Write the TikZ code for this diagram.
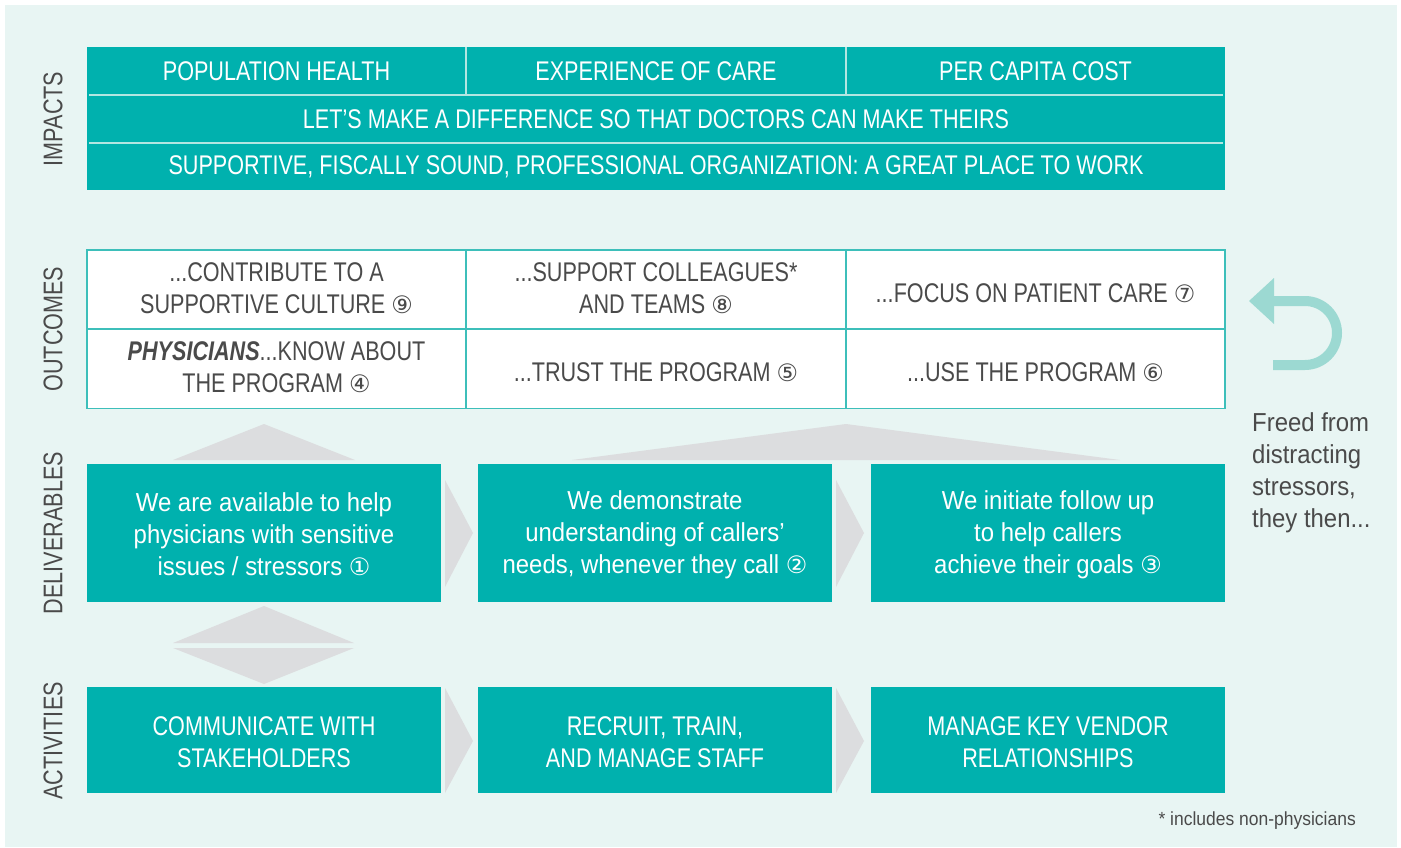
\documentclass[tikz,border=0pt]{standalone}
\usepackage{fontspec}
\setmainfont{Liberation Sans}[FakeStretch=0.80]
\newfontfamily\lcfont{Liberation Sans}[FakeStretch=0.92]
\newfontfamily\circfont{DejaVu Sans}
\definecolor{bgmint}{HTML}{E8F5F3}
\definecolor{tealA}{HTML}{00B1AE}
\definecolor{tealLine}{HTML}{3DBFBA}
\definecolor{sepLine}{HTML}{B3E6E2}
\definecolor{greyTri}{HTML}{DCDDDF}
\definecolor{inkGrey}{HTML}{4A4A4A}
\definecolor{arrowMint}{HTML}{9CD9D2}
\newcommand{\cnum}[1]{{\circfont\fontsize{24}{32}\selectfont #1}}
% struts that keep every text block centred the same way in its box
\newcommand{\capstrut}{\rule[-4.5pt]{0pt}{24pt}}
\newcommand{\onestrut}{\rule[0pt]{0pt}{26pt}}
\newcommand{\actstrut}{\rule[-2pt]{0pt}{27.5pt}}
\newcommand{\lcstrut}{\rule[-2.5pt]{0pt}{25pt}}
\tikzset{
  impactcell/.style={fill=tealA, text=white, inner sep=0pt, minimum height=48,
    font=\fontsize{27}{32}\selectfont},
  outcomecell/.style={fill=white, draw=tealLine, line width=1.6pt, text=inkGrey,
    inner sep=0pt, minimum width=379, minimum height=79, align=center,
    font=\fontsize{27}{32}\selectfont},
  delivbox/.style={fill=tealA, text=white, inner sep=0pt, minimum width=354,
    minimum height=138, align=center, font=\lcfont\fontsize{26}{32}\selectfont},
  actbox/.style={fill=tealA, text=white, inner sep=0pt, minimum width=354,
    minimum height=106, align=center, font=\fontsize{27}{32}\selectfont},
  sidelabel/.style={text=inkGrey, rotate=90, inner sep=0pt,
    font=\fontsize{27}{32}\selectfont},
  sepline/.style={draw=sepLine, line width=1.5pt},
  greyshape/.style={fill=greyTri, draw=none},
}
\begin{document}
\begin{tikzpicture}[x=1pt, y=-1pt]
\useasboundingbox (0,0) rectangle (1401,848);
\fill[white] (0,0) rectangle (1401,848);
\fill[bgmint] (5,5) rectangle (1397,847);

% side labels
\node[sidelabel] (labImpacts) at (53,119) {IMPACTS};
\node[sidelabel] (labOutcomes) at (53,329) {OUTCOMES};
\node[sidelabel] (labDeliv) at (53,533) {DELIVERABLES};
\node[sidelabel] (labAct) at (53,741) {ACTIVITIES};

% impacts
\node[impactcell, minimum width=379] (impPop) at (276.5,71) {POPULATION HEALTH};
\node[impactcell, minimum width=380] (impExp) at (656,71) {EXPERIENCE OF CARE};
\node[impactcell, minimum width=379] (impCost) at (1035.5,71) {PER CAPITA COST};
\node[impactcell, minimum width=1138] (impDiff) at (656,119) {LET’S MAKE A DIFFERENCE SO THAT DOCTORS CAN MAKE THEIRS};
\node[impactcell, minimum width=1138, minimum height=47] (impOrg) at (656,167) {SUPPORTIVE, FISCALLY SOUND, PROFESSIONAL ORGANIZATION: A GREAT PLACE TO WORK};
\draw[sepline] (impPop.north east) -- (impPop.south east);
\draw[sepline] (impExp.north east) -- (impExp.south east);
\draw[sepline] ([xshift=2]impDiff.north west) -- ([xshift=-2]impDiff.north east);
\draw[sepline] ([xshift=2]impDiff.south west) -- ([xshift=-2]impDiff.south east);

% outcomes
\node[outcomecell] (outCulture) at (276.5,289.5) {\capstrut...CONTRIBUTE TO A\\SUPPORTIVE CULTURE \cnum{⑨}\capstrut};
\node[outcomecell, minimum width=380] (outColleagues) at (656,289.5) {\capstrut...SUPPORT COLLEAGUES*\\AND TEAMS \cnum{⑧}\capstrut};
\node[outcomecell] (outFocus) at (1035.5,289.5) {\onestrut...FOCUS ON PATIENT CARE \cnum{⑦}};
\node[outcomecell] (outKnow) at (276.5,369) {\capstrut\textbf{\textit{PHYSICIANS}}...KNOW ABOUT\\THE PROGRAM \cnum{④}\capstrut};
\node[outcomecell, minimum width=380] (outTrust) at (656,369) {\onestrut...TRUST THE PROGRAM \cnum{⑤}};
\node[outcomecell] (outUse) at (1035.5,369) {\onestrut...USE THE PROGRAM \cnum{⑥}};

% grey pointers from deliverables up to outcomes
\fill[greyshape] (173,460) -- (264,424) -- (355,460) -- cycle;
\fill[greyshape] (572,460) -- (846,424) -- (1120,460) -- cycle;

% deliverables
\node[delivbox] (delAvail) at (264,533) {\lcstrut We are available to help\\physicians with sensitive\\issues / stressors \cnum{①}\lcstrut};
\node[delivbox] (delUnder) at (655,533) {\lcstrut We demonstrate\\understanding of callers’\\needs, whenever they call \cnum{②}\lcstrut};
\node[delivbox] (delFollow) at (1048,533) {\lcstrut We initiate follow up\\to help callers\\achieve their goals \cnum{③}\lcstrut};
\fill[greyshape] (445,480) -- (473,533) -- (445,587) -- cycle;
\fill[greyshape] (836,480) -- (864,533) -- (836,587) -- cycle;

% two-way pointer between deliverables and activities
\fill[greyshape] (173,643) -- (264,606) -- (354,643) -- cycle;
\fill[greyshape] (173,648) -- (354,648) -- (264,684) -- cycle;

% activities
\node[actbox] (actComm) at (264,740) {\actstrut COMMUNICATE WITH\\STAKEHOLDERS\actstrut};
\node[actbox] (actStaff) at (655,740) {\actstrut RECRUIT, TRAIN,\\AND MANAGE STAFF\actstrut};
\node[actbox] (actVendor) at (1048,740) {\actstrut MANAGE KEY VENDOR\\RELATIONSHIPS\actstrut};
\fill[greyshape] (445,688) -- (473,741) -- (445,793) -- cycle;
\fill[greyshape] (836,688) -- (864,741) -- (836,793) -- cycle;

% return arrow and caption
\draw[arrowMint, line width=10pt] (1272,301) -- (1305,301)
  arc[start angle=90, end angle=-90, radius=32pt] -- (1273,365);
\fill[arrowMint] (1249,301) -- (1274,278) -- (1274,324) -- cycle;
\node[anchor=north west, inner sep=0pt, align=left, text=inkGrey,
  font=\lcfont\fontsize{26}{32}\selectfont] (freed) at (1252,412)
  {Freed from\\distracting\\stressors,\\they then...};

% footnote
\node[anchor=base east, inner sep=0pt, text=inkGrey,
  font=\lcfont\fontsize{19}{22}\selectfont] (foot) at (1356,825)
  {* includes non-physicians};
\end{tikzpicture}
\end{document}
